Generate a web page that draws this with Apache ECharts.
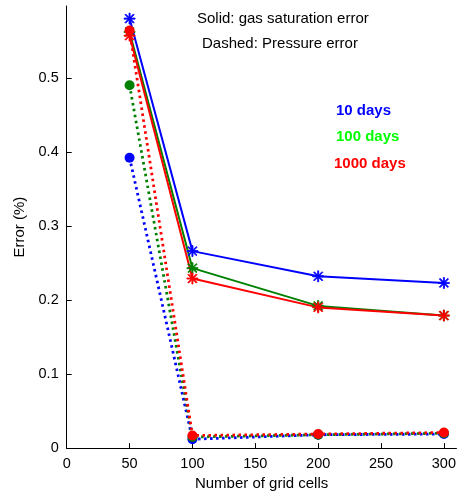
<!DOCTYPE html>
<html>
<head>
<meta charset="utf-8">
<script src="https://cdn.jsdelivr.net/npm/echarts@6/dist/echarts.min.js"></script>
<style>html,body{margin:0;padding:0;background:#fff}#c{width:459px;height:496px}</style>
</head>
<body>
<div id="c"></div>
<script>
var gridCells = [50, 100, 200, 300];
var satErr10 = [0.580, 0.266, 0.232, 0.223];
var satErr100 = [0.562, 0.243, 0.192, 0.179];
var satErr1000 = [0.557, 0.229, 0.190, 0.179];
var presErr10 = [0.392, 0.012, 0.018, 0.019];
var presErr100 = [0.490, 0.015, 0.018, 0.020];
var presErr1000 = [0.564, 0.017, 0.019, 0.021];
var xTicks = [0, 50, 100, 150, 200, 250, 300];
var yTicks = [0, 0.1, 0.2, 0.3, 0.4, 0.5];
var seriesLabels = ['10 days', '100 days', '1000 days'];

var FONT = 'Liberation Sans, Arial, sans-serif';
var star = 'path://M-1,-10L1,-10L1,10L-1,10Z M-10,-1L-10,1L10,1L10,-1Z M-8.4,-7L7,8.4L8.4,7L-7,-8.4Z M7,-8.4L-8.4,7L-7,8.4L8.4,-7Z';

function pairs(v){ return gridCells.map(function(x,i){return [x, v[i]];}); }
function solid(name, vals, color){
  return {name:name, type:'line', data:pairs(vals), symbol:star, symbolSize:11,
    itemStyle:{color:color, borderColor:color, borderWidth:0.8},
    lineStyle:{color:color, width:2}, animation:false, z:2};
}
function dotted(name, vals, color){
  return {name:name, type:'line', data:pairs(vals), symbol:'circle', symbolSize:10,
    itemStyle:{color:color},
    lineStyle:{color:color, width:2.8, type:[2.5,3.5]}, animation:false, z:3};
}

var chart = echarts.init(document.getElementById('c'), null, {renderer:'canvas'});
chart.setOption({
  backgroundColor:'#fff',
  animation:false,
  grid:{left:66.7, right:1, top:6, bottom:46.3, containLabel:false},
  xAxis:{type:'value', min:0, max:310, interval:50,
    name:'Number of grid cells', nameLocation:'middle', nameGap:25,
    nameTextStyle:{fontFamily:FONT, fontSize:15, color:'#000'},
    axisLine:{lineStyle:{color:'#000', width:1}},
    axisTick:{inside:true, length:5, lineStyle:{color:'#000'}, customValues:xTicks},
    axisLabel:{fontFamily:FONT, fontSize:14.5, color:'#000', margin:8, customValues:xTicks},
    splitLine:{show:false}},
  yAxis:{type:'value', min:0, max:0.597, interval:0.1,
    name:'Error (%)', nameLocation:'middle', nameGap:33,
    nameTextStyle:{fontFamily:FONT, fontSize:15, color:'#000'},
    axisLine:{show:true, lineStyle:{color:'#000', width:1}},
    axisTick:{show:true, inside:true, length:5, lineStyle:{color:'#000'}, customValues:yTicks},
    axisLabel:{fontFamily:FONT, fontSize:14.5, color:'#000', margin:8, customValues:yTicks,
      formatter:function(v){return v===0?'0':String(Math.round(v*10)/10);}},
    splitLine:{show:false}},
  series:[
    solid('sat10', satErr10, '#0000ff'),
    solid('sat100', satErr100, '#008000'),
    solid('sat1000', satErr1000, '#ff0000'),
    dotted('p10', presErr10, '#0000ff'),
    dotted('p100', presErr100, '#008000'),
    dotted('p1000', presErr1000, '#ff0000')
  ],
  graphic:[
    {type:'text', left:197, top:11, style:{text:'Solid: gas saturation error', font:'15px '+FONT, fill:'#000'}},
    {type:'text', left:202, top:36, style:{text:'Dashed: Pressure error', font:'15px '+FONT, fill:'#000'}},
    {type:'text', left:336, top:103, style:{text:seriesLabels[0], font:'bold 15px '+FONT, fill:'#0000ff'}},
    {type:'text', left:336, top:129, style:{text:seriesLabels[1], font:'bold 15px '+FONT, fill:'#00ff00'}},
    {type:'text', left:334, top:156, style:{text:seriesLabels[2], font:'bold 15px '+FONT, fill:'#ff0000'}}
  ]
});
</script>
</body>
</html>
